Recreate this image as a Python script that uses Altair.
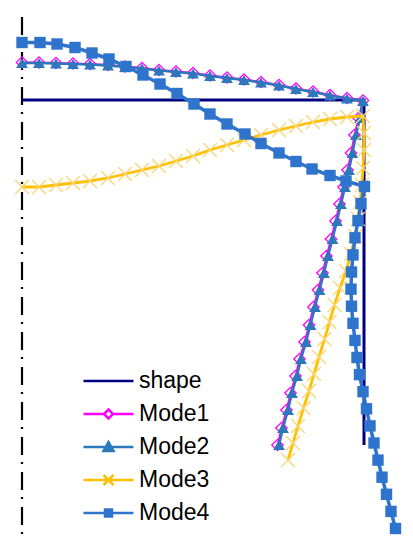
import altair as alt
import pandas as pd

# ---- data (model coordinates; beam/column frame with mode shapes) ----
series_names = ["shape", "Mode1", "Mode2", "Mode3", "Mode4"]
series_colors = ["#000080", "#FF00FF", "#2B78BA", "#FFC000", "#2F74CC"]

shape_x = [0, 342, 342]
shape_y = [345, 345, 0]

beam_x = [0, 17, 34, 51, 68, 86, 103, 120, 137, 154, 171, 188, 205, 222, 239, 257, 274, 291, 308, 325, 341]

mode1_x = beam_x + [336.5, 332.5, 329, 325.5, 321.5, 317.5, 313.5, 309, 304.5, 300.5,
                    296, 291.5, 287, 282.5, 277.5, 273.5, 268.5, 264.5, 259.5, 255.5]
mode1_y = [382.5, 382.5, 382, 381.5, 381, 380, 378.5, 377, 375, 373.5, 372, 369.5, 367.5, 365.5, 363,
           360, 356.5, 353.5, 350, 347, 344.5] + \
          [327, 310, 292, 275, 258, 241, 224, 206, 189, 172, 155, 138, 120, 103, 86, 69, 52, 35, 17, 0]

mode2_x = beam_x + [338, 334, 330.5, 327, 323, 319, 315, 310.5, 306, 302,
                    297.5, 293, 288.5, 284, 279, 275, 270, 266, 261, 257]
mode2_y = [382, 382, 381.5, 381, 380.5, 379.5, 378, 376.5, 374.5, 373, 371.5, 369, 367, 365, 362.5,
           359.5, 356, 353, 349.5, 346.5, 344] + \
          [327, 310, 292, 275, 258, 241, 224, 206, 189, 172, 155, 138, 120, 103, 86, 69, 52, 35, 17, 0]

mode3_x = beam_x + [342, 342, 341, 340, 338, 336, 333, 329, 324, 318,
                    312.5, 307.5, 302.5, 297, 292, 287, 281.5, 276, 271, 266]
mode3_y = [258, 258, 260, 262, 264, 267, 271, 275, 279, 284, 289, 295, 300, 305, 310, 315, 319, 323,
           326, 328, 329] + \
          [312, 295, 277, 260, 243, 226, 209, 191, 174, 157, 140, 123, 106, 88, 71, 54, 37, 19, 2, -15]

mode4_x = [0, 18, 35, 53, 70, 87, 104, 121, 138, 155, 172, 188, 205, 223, 239, 257, 274, 290, 308, 324, 342.5] + \
          [339, 336, 333, 331, 329.5, 329, 329.5, 331, 333, 335, 337.5, 341, 344.5, 348, 352, 356, 360,
           364.5, 369, 373.5]
mode4_y = [402.5, 402.5, 401, 397.5, 392, 386, 378.5, 370, 361, 351.5, 341, 331, 321, 311, 301.5, 292,
           283.5, 276, 269.5, 264, 258.5] + \
          [241.4, 224.3, 207.2, 190.1, 173, 155.9, 138.8, 121.7, 104.6, 87.5, 70.4, 53.3, 36.2, 19.1, 2,
           -15.1, -32.2, -49.3, -66.4, -83.5]

axis_x = [0]
axis_y_top = [428]
axis_y_bottom = [-91]

# ---- build tables ----
rows = []
for name, xs_, ys_ in [("shape", shape_x, shape_y), ("Mode1", mode1_x, mode1_y),
                       ("Mode2", mode2_x, mode2_y), ("Mode3", mode3_x, mode3_y),
                       ("Mode4", mode4_x, mode4_y)]:
    for i, (xv, yv) in enumerate(zip(xs_, ys_)):
        rows.append({"series": name, "x": xv, "y": yv, "i": i})
df = pd.DataFrame(rows)
axis_df = pd.DataFrame({"x": axis_x, "y": axis_y_top, "y2": axis_y_bottom})

xscale = alt.Scale(domain=[-14, 383], nice=False, zero=False)
yscale = alt.Scale(domain=[-97, 437], nice=False, zero=False)
X = alt.X("x:Q", scale=xscale, axis=None)
Y = alt.Y("y:Q", scale=yscale, axis=None)

color_of = dict(zip(series_names, series_colors))
width_of = {"shape": 3, "Mode1": 1.8, "Mode2": 2.5, "Mode3": 2.8, "Mode4": 3.5}


def line_layer(name):
    return alt.Chart(df).transform_filter(alt.datum.series == name).mark_line(
        color=color_of[name], strokeWidth=width_of[name]
    ).encode(x=X, y=Y, order="i:Q")


def point_layer(name, **kw):
    return alt.Chart(df).transform_filter(alt.datum.series == name).mark_point(
        opacity=1, **kw
    ).encode(x=X, y=Y)


axis_rule = alt.Chart(axis_df).mark_rule(
    color="black", strokeWidth=2.2, strokeDash=[18, 7, 2, 8]
).encode(x=X, y=Y, y2="y2:Q")

p1 = point_layer("Mode1", shape="diamond", filled=False, color="#FF00FF", size=130, strokeWidth=1.3)
p2 = point_layer("Mode2", shape="triangle-up", filled=True, color="#2B78BA", size=140)
p3 = point_layer("Mode3", shape="M-1,-1L1,1M-1,1L1,-1", filled=False, color="#F8D77A", size=190,
                 strokeWidth=1.4)
p4 = point_layer("Mode4", shape="square", filled=True, color="#2F74CC", size=130)

legend_paths = [
    "M-1,0H1",
    "M-1,0H-0.18M0.18,0H1M0,-0.18L0.18,0L0,0.18L-0.18,0Z",
    "M-1,0H1M0,-0.2L0.2,0.16L-0.2,0.16ZM0,-0.08L0.1,0.1L-0.1,0.1Z",
    "M-1,0H1M-0.2,-0.2L0.2,0.2M-0.2,0.2L0.2,-0.2",
    "M-1,0H1M-0.14,-0.14H0.14V0.14H-0.14ZM-0.07,-0.07H0.07V0.07H-0.07Z",
]

leg = alt.Legend(
    orient="none", legendX=74, legendY=356.75, title=None,
    symbolSize=2500, symbolStrokeWidth=2.5, labelFontSize=23,
    labelFont="Liberation Sans", labelColor="black", labelOffset=4,
    clipHeight=32.5, rowPadding=0, padding=0, labelLimit=200,
)

legend_layer = alt.Chart(df).transform_filter("false").mark_point(filled=False, opacity=1).encode(
    color=alt.Color("series:N", scale=alt.Scale(domain=series_names, range=series_colors), legend=leg),
    shape=alt.Shape("series:N", scale=alt.Scale(domain=series_names, range=legend_paths), legend=leg),
)

chart = alt.layer(
    axis_rule,
    line_layer("shape"),
    line_layer("Mode1"), p1,
    line_layer("Mode2"), p2,
    line_layer("Mode3"), p3,
    line_layer("Mode4"), p4,
    legend_layer,
).properties(
    width=397, height=534, padding=0, background="white"
).configure_view(stroke=None)

chart.save("out.html", embed_options={"renderer": "svg", "actions": False})
